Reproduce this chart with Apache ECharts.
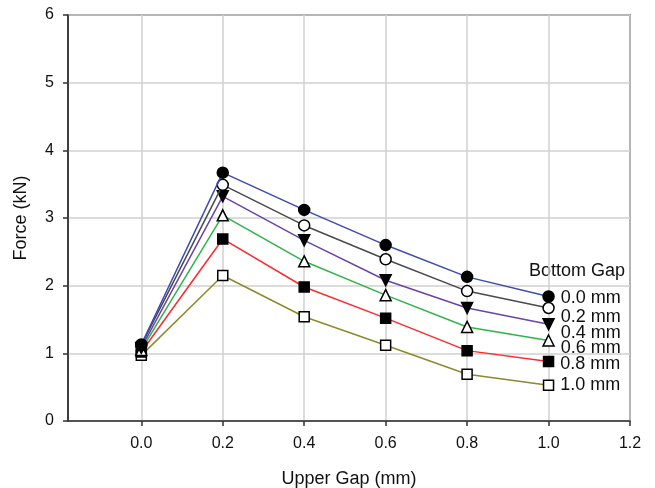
<!DOCTYPE html>
<html>
<head>
<meta charset="utf-8">
<script src="https://cdn.jsdelivr.net/npm/echarts@6/dist/echarts.min.js"></script>
<style>html,body{margin:0;padding:0;background:#fff}#c{width:655px;height:488px}</style>
</head>
<body>
<div id="c"></div>
<script>
var upperGap = [0.0, 0.2, 0.4, 0.6, 0.8, 1.0];
var seriesNames = ['0.0 mm', '0.2 mm', '0.4 mm', '0.6 mm', '0.8 mm', '1.0 mm'];
var force00 = [1.13, 3.67, 3.12, 2.60, 2.13, 1.84];
var force02 = [1.12, 3.49, 2.89, 2.39, 1.92, 1.67];
var force04 = [1.08, 3.32, 2.67, 2.08, 1.67, 1.43];
var force06 = [1.05, 3.04, 2.36, 1.86, 1.39, 1.19];
var force08 = [1.02, 2.69, 1.98, 1.52, 1.04, 0.88];
var force10 = [0.97, 2.15, 1.54, 1.12, 0.69, 0.53];
var xTicks = ['0.0', '0.2', '0.4', '0.6', '0.8', '1.0', '1.2'];
var yTicks = ['0', '1', '2', '3', '4', '5', '6'];
var legendTitle = 'Bottom Gap';

var allForces = [force00, force02, force04, force06, force08, force10];
var lineColors = ['#3b4bb0', '#4a4a4a', '#6a44a8', '#2fb34a', '#ff2a2a', '#8c8a2c'];
var symbols = ['circle', 'circle', 'triangle', 'triangle', 'rect', 'rect'];
var rotates = [0, 0, 180, 0, 0, 0];
var fills = ['#000', '#fff', '#000', '#fff', '#000', '#fff'];
var sizes = [11, 11, 11, 11, 10, 10];
var labelOffsets = [[0, 2], [0, 9], [0, 9], [0, 8], [0, 3], [0, 0]];
var font = 'Liberation Sans, Arial, sans-serif';
var tickVals = [0, 0.2, 0.4, 0.6, 0.8, 1.0, 1.2];

var series = allForces.map(function (vals, i) {
  var data = vals.map(function (v, j) {
    var d = { value: [upperGap[j], v] };
    if (j === vals.length - 1) {
      d.label = {
        show: true, position: 'right', distance: 6, offset: labelOffsets[i],
        formatter: seriesNames[i], color: '#111', fontSize: 18, fontFamily: font
      };
    }
    return d;
  });
  return {
    name: seriesNames[i], type: 'line', data: data,
    symbol: symbols[i], symbolRotate: rotates[i], symbolSize: sizes[i],
    lineStyle: { color: lineColors[i], width: 1.5 },
    itemStyle: { color: fills[i], borderColor: '#000', borderWidth: 1.5 },
    z: 10 - i,
    animation: false
  };
});

var chart = echarts.init(document.getElementById('c'));
chart.setOption({
  animation: false,
  grid: { left: 68, right: 25, top: 15, bottom: 67, containLabel: false, outerBoundsMode: 'none',
    show: true, borderColor: '#333', borderWidth: 1.5, backgroundColor: 'transparent' },
  xAxis: {
    type: 'value', min: -0.18, max: 1.2,
    name: 'Upper Gap (mm)', nameLocation: 'middle', nameGap: 49,
    nameTextStyle: { fontSize: 18, color: '#111', fontFamily: font },
    axisLine: { show: true, onZero: false, lineStyle: { color: '#333', width: 1.5 } },
    axisTick: { show: true, length: 5, lineStyle: { color: '#333', width: 1.5 }, customValues: tickVals },
    axisLabel: { fontSize: 16, color: '#111', fontFamily: font, margin: 15,
      customValues: tickVals,
      formatter: function (v) { return xTicks[Math.round(v / 0.2)]; } },
    splitLine: { show: true, lineStyle: { color: '#d0d0d0', width: 1.5 } }
  },
  yAxis: {
    type: 'value', min: 0, max: 6, interval: 1,
    name: 'Force (kN)', nameLocation: 'middle', nameGap: 38,
    nameTextStyle: { fontSize: 18, color: '#111', fontFamily: font },
    axisLine: { show: true, onZero: false, lineStyle: { color: '#333', width: 1.5 } },
    axisTick: { show: true, length: 5, lineStyle: { color: '#333', width: 1.5 } },
    axisLabel: { fontSize: 16, color: '#111', fontFamily: font, margin: 14,
      formatter: function (v) { return yTicks[Math.round(v)]; } },
    splitLine: { show: true, lineStyle: { color: '#d0d0d0', width: 1.5 } }
  },
  graphic: [{
    type: 'text', left: 529, top: 262,
    style: { text: legendTitle, fontSize: 18, fill: '#111', fontFamily: font }
  }],
  series: series
});
</script>
</body>
</html>
